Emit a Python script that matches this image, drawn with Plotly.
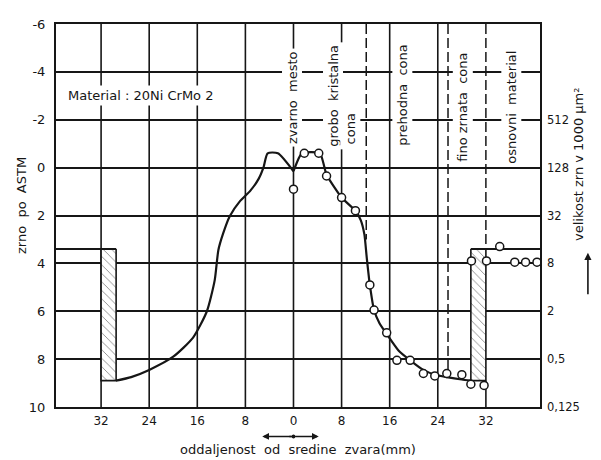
import plotly.graph_objects as go

# ---------------- data ----------------
# left half (no measurements) - distance from weld centre (negative = left side)
left_x = [-29.5, -27, -24, -20, -16.7, -14.4, -13.1, -12.5, -11.7, -10.6, -8.9, -7.2, -5.8, -5.0, -4.3, -2.6, 0.0]
left_y = [8.9, 8.75, 8.45, 7.9, 7.1, 6.0, 4.7, 3.45, 2.75, 2.03, 1.4, 0.97, 0.47, 0.0, -0.6, -0.6, 0.15]

# right half fitted curve
right_x = [0.0, 1.4, 4.4, 5.5, 8.0, 10.3, 11.2, 11.8, 12.2, 12.7, 13.4, 14.3, 15.5, 17.5, 19.4, 21.6, 23.5, 25.5, 28.0, 29.5]
right_y = [0.15, -0.6, -0.6, 0.3, 1.25, 1.8, 2.2, 2.8, 3.8, 4.9, 5.95, 6.5, 6.95, 7.65, 8.05, 8.45, 8.65, 8.75, 8.85, 8.9]

# measured points (open circles)
meas_x = [0, 1.8, 4.2, 5.5, 8.0, 10.3, 12.7, 13.4, 15.5, 17.2, 19.4, 21.6, 23.5, 25.5, 28.0,
          29.5, 31.7, 29.6, 32.1, 34.3, 36.8, 38.6, 40.5]
meas_y = [0.9, -0.6, -0.6, 0.35, 1.25, 1.8, 4.9, 5.95, 6.9, 8.05, 8.05, 8.6, 8.7, 8.6, 8.65,
          9.05, 9.1, 3.9, 3.9, 3.3, 3.95, 3.95, 3.95]

# base material grain size and heat-affected zone bounds
base_grain = 3.4
haz_outer = 32
haz_inner = 29.5
haz_bottom = 8.9

x_range = [-39.5, 41]
y_range = [10, -6]

x_ticks = [-32, -24, -16, -8, 0, 8, 16, 24, 32]
x_ticktext = ["32", "24", "16", "8", "0", "8", "16", "24", "32"]
y_ticks = [-6, -4, -2, 0, 2, 4, 6, 8, 10]
y_ticktext = ["-6", "-4", "-2", "0", "2", "4", "6", "8", "10"]
y2_ticks = [-2, 0, 2, 4, 6, 8, 10]
y2_ticktext = ["512", "128", "32", "8", "2", "0,5", "0,125"]

grid_x = [-32, -24, -16, -8, 0, 8, 16, 24]
zone_x = [12.1, 25.7, 32]
zone_end = [3.0, 8.6, 3.4]

zone_labels = ["zvarno  mesto", "grobo  kristalna", "cona", "prehodna  cona", "fino zrnata  cona", "osnovni  material"]
zone_label_x = [-0.2, 6.6, 9.5, 18.1, 28.2, 36.3]
zone_label_y = [-0.85, -0.75, -0.85, -0.8, -0.1, -0.05]

FONT = "DejaVu Sans, Verdana, sans-serif"
INK = "#161616"

fig = go.Figure()

# hatched HAZ rectangles
for sgn in (-1, 1):
    xs = [sgn * haz_inner, sgn * haz_outer, sgn * haz_outer, sgn * haz_inner, sgn * haz_inner]
    ys = [base_grain, base_grain, haz_bottom, haz_bottom, base_grain]
    fig.add_trace(go.Scatter(
        x=xs, y=ys, mode="lines", fill="toself", fillcolor="white",
        fillpattern=dict(shape="\\", fgcolor=INK, bgcolor="white", size=6, solidity=0.15),
        line=dict(color=INK, width=1.6), showlegend=False, hoverinfo="skip"))

# base material level lines
fig.add_trace(go.Scatter(x=[x_range[0], -haz_inner], y=[base_grain, base_grain], mode="lines",
                         line=dict(color=INK, width=1.8), showlegend=False, cliponaxis=False))
fig.add_trace(go.Scatter(x=[haz_inner, x_range[1]], y=[base_grain, base_grain], mode="lines",
                         line=dict(color=INK, width=1.8), showlegend=False, cliponaxis=False))

# curves
fig.add_trace(go.Scatter(x=left_x, y=left_y, mode="lines",
                         line=dict(color=INK, width=2.2, shape="spline", smoothing=0.6), showlegend=False))
fig.add_trace(go.Scatter(x=right_x, y=right_y, mode="lines",
                         line=dict(color=INK, width=2.2, shape="spline", smoothing=0.5), showlegend=False))

# measured points
fig.add_trace(go.Scatter(x=meas_x, y=meas_y, mode="markers", yaxis="y2",
                         marker=dict(symbol="circle", size=8, color="white", line=dict(color=INK, width=1.5)),
                         showlegend=False, cliponaxis=False))

# vertical grid lines
for gx in grid_x:
    fig.add_shape(type="line", x0=gx, x1=gx, y0=y_range[1], y1=y_range[0], xref="x", yref="y",
                  line=dict(color=INK, width=1.6), layer="below")
fig.add_shape(type="line", x0=haz_outer, x1=haz_outer, y0=haz_bottom, y1=y_range[0], xref="x", yref="y",
              line=dict(color=INK, width=1.6), layer="below")
# zone boundaries (dashed)
for zx, ze in zip(zone_x, zone_end):
    fig.add_shape(type="line", x0=zx, x1=zx, y0=y_range[1], y1=ze, xref="x", yref="y",
                  line=dict(color=INK, width=1.5, dash="10px,4px"), layer="below")

# zone labels
for t, lx, ly in zip(zone_labels, zone_label_x, zone_label_y):
    fig.add_annotation(x=lx, y=ly, xref="x", yref="y", text=t, textangle=-90, showarrow=False,
                       xanchor="center", yanchor="bottom", bgcolor="white", borderpad=2,
                       font=dict(family=FONT, size=13, color=INK))

fig.add_annotation(x=-38, y=-3.0, xref="x", yref="y", text="Material : 20Ni CrMo 2", showarrow=False,
                   xanchor="left", yanchor="middle", bgcolor="white", borderpad=2,
                   font=dict(family=FONT, size=13, color=INK))

# axis titles
fig.add_annotation(x=-0.091, y=0.526, xref="paper", yref="paper", text="zrno  po  ASTM", textangle=-90,
                   showarrow=False, font=dict(family=FONT, size=13, color=INK))
fig.add_annotation(x=1.099, y=0.633, xref="paper", yref="paper",
                   text="velikost zrn v 1000 µm²", textangle=-90,
                   showarrow=False, font=dict(family=FONT, size=13, color=INK))
fig.add_annotation(x=1.099, y=0.4026, xref="paper", yref="paper", ax=0, ay=43, text="",
                   showarrow=True, arrowhead=2, arrowsize=0.9, arrowwidth=1.6, arrowcolor=INK)
fig.add_annotation(x=0.5, y=-0.11, xref="paper", yref="paper",
                   text="oddaljenost  od  sredine  zvara(mm)", showarrow=False, yanchor="middle",
                   font=dict(family=FONT, size=13, color=INK))
# direction arrows below 0
for hx, ax in ((-5.2, 31), (4.2, -31)):
    fig.add_annotation(x=hx, y=-0.077, xref="x", yref="paper", ax=ax, ay=0, text="",
                       showarrow=True, arrowhead=2, arrowsize=0.9, arrowwidth=1.5, arrowcolor=INK)
fig.add_shape(type="circle", xref="x", yref="paper", x0=-0.3, x1=0.3, y0=-0.082, y1=-0.072,
              fillcolor=INK, line=dict(color=INK, width=0))

# page body has an 8px margin: shrink figure and margins to place the plot area correctly
fig.update_layout(
    width=593, height=452,
    margin=dict(l=48, r=61, t=9, b=53),
    paper_bgcolor="white", plot_bgcolor="white",
    font=dict(family=FONT, size=13, color=INK),
    xaxis=dict(range=x_range, showgrid=False, zeroline=False, showline=True, mirror=True,
               linecolor=INK, linewidth=2, tickvals=x_ticks, ticktext=x_ticktext, ticks="",
               tickfont=dict(size=12), ticklabelstandoff=2),
    yaxis=dict(range=y_range, showgrid=True, gridcolor=INK, gridwidth=1.6, zeroline=False,
               showline=True, mirror=True, linecolor=INK, linewidth=2, tickvals=y_ticks,
               ticktext=y_ticktext, ticks="", tickfont=dict(size=13), ticklabelstandoff=6),
    yaxis2=dict(range=y_range, overlaying="y", side="right", showgrid=False, zeroline=False,
                showline=False, tickvals=y2_ticks, ticktext=y2_ticktext, ticks="",
                tickfont=dict(size=11.5), ticklabelstandoff=6),
    showlegend=False,
)

fig.write_html("out.html")
